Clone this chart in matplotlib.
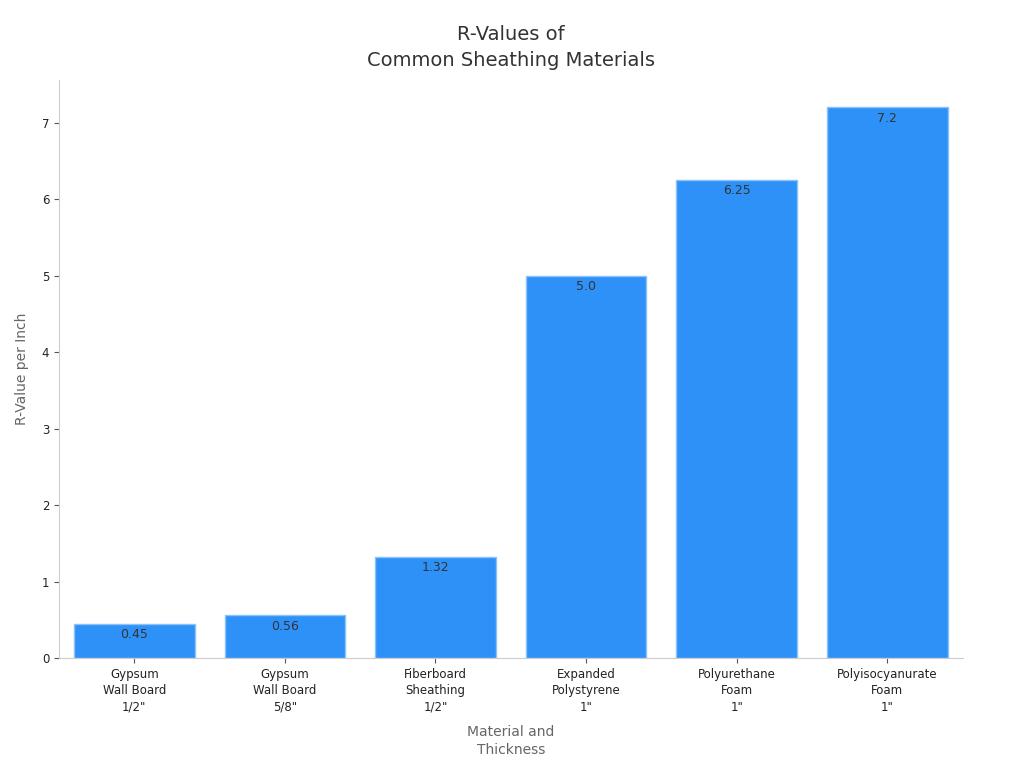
import numpy as np
import matplotlib.pyplot as plt

# данные
materials = ['Gypsum\nWall Board\n1/2"', 'Gypsum\nWall Board\n5/8"', 'Fiberboard\nSheathing\n1/2"',
             'Expanded\nPolystyrene\n1"', 'Polyurethane\nFoam\n1"', 'Polyisocyanurate\nFoam\n1"']
r_values = [0.45, 0.56, 1.32, 5.0, 6.25, 7.2]
value_labels = ['0.45', '0.56', '1.32', '5.0', '6.25', '7.2']

fig = plt.figure(figsize=(10.24, 7.68), dpi=100)
ax = fig.add_axes([0.0576, 0.143, 0.8824, 0.753])

x = np.arange(len(materials))
ax.bar(x, r_values, width=0.8, color='#2E91F8', edgecolor='#8CC2FA', linewidth=1)

# подписи значений внутри столбцов
for xi, v, lab in zip(x, r_values, value_labels):
    ax.annotate(lab, (xi, v), xytext=(0, -3), textcoords='offset points',
                ha='center', va='top', fontsize=9, color='#333333')

ax.set_xlim(-0.5, 5.5)
ax.set_ylim(0, 7.56)
ax.set_xticks(x)
ax.set_xticklabels(materials, fontsize=8.5, color='#222222', linespacing=1.35)
ax.tick_params(axis='y', labelsize=8.5, labelcolor='#222222', color='#555555')
ax.tick_params(axis='x', color='#555555')

for s in ['top', 'right']:
    ax.spines[s].set_visible(False)
for s in ['left', 'bottom']:
    ax.spines[s].set_color('#cccccc')

ax.set_xlabel('Material and\nThickness', fontsize=10, color='#666666', labelpad=8, linespacing=1.4)
ax.set_ylabel('R-Value per Inch', fontsize=10, color='#666666', labelpad=9)
ax.set_title('R-Values of\nCommon Sheathing Materials', fontsize=14, color='#333333', pad=10,
             linespacing=1.45)

plt.savefig('out.png')
